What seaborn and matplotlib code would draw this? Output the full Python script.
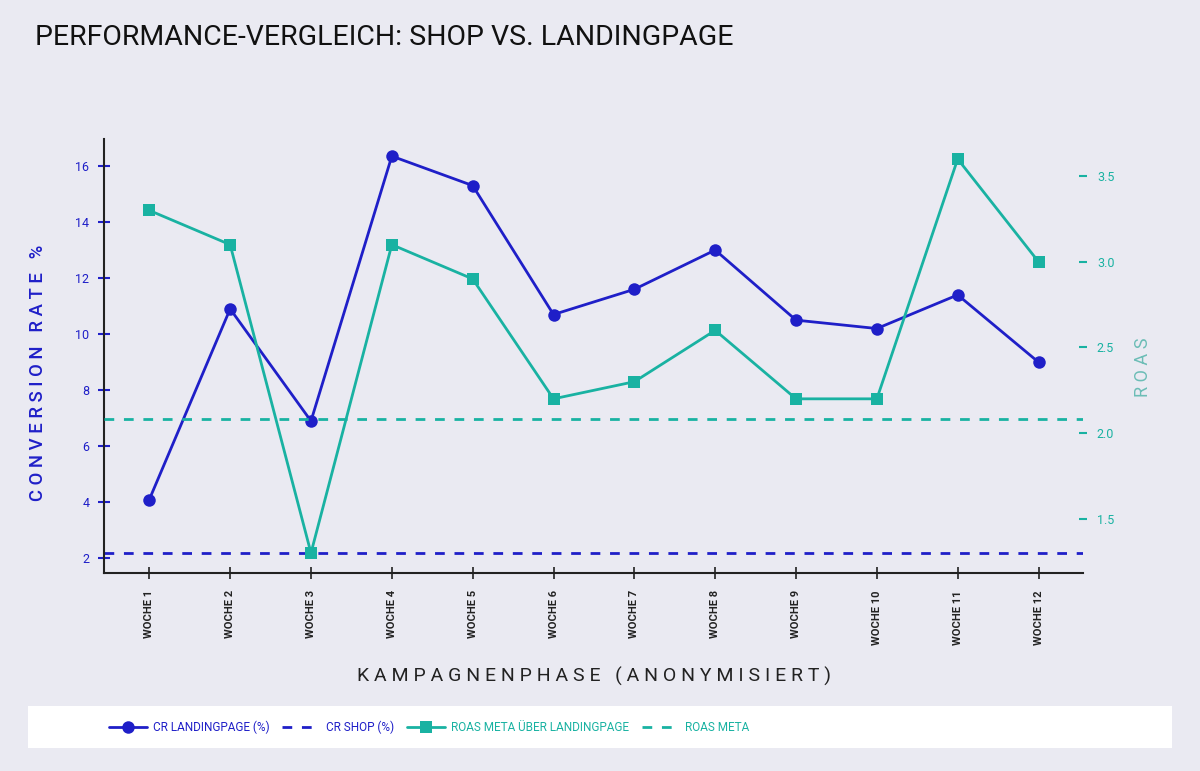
import matplotlib
matplotlib.use("Agg")
import matplotlib.pyplot as plt
import seaborn as sns
import pandas as pd
from matplotlib.patches import Rectangle

# Daten
wochen = ["WOCHE 1", "WOCHE 2", "WOCHE 3", "WOCHE 4", "WOCHE 5", "WOCHE 6",
          "WOCHE 7", "WOCHE 8", "WOCHE 9", "WOCHE 10", "WOCHE 11", "WOCHE 12"]
cr_landingpage = [4.1, 10.9, 6.9, 16.35, 15.3, 10.7, 11.6, 13.0, 10.5, 10.2, 11.4, 9.0]
roas_landingpage = [3.3, 3.1, 1.3, 3.1, 2.9, 2.2, 2.3, 2.6, 2.2, 2.2, 3.6, 3.0]
cr_shop = 2.2
roas_meta = 2.08

BG = "#EAEAF2"
BLUE = "#1F1FC8"
TEAL = "#19B2A2"
TEAL_LABEL = "#6CBDB6"
DARK = "#222222"

sns.set_style("dark", {"axes.facecolor": BG, "figure.facecolor": BG})
plt.rcParams['font.family'] = ['Roboto', 'DejaVu Sans']

df = pd.DataFrame({"pos": range(len(wochen)), "woche": wochen,
                   "cr": cr_landingpage, "roas": roas_landingpage})

fig = plt.figure(figsize=(12, 7.71), dpi=100)
ax1 = fig.add_axes([0.0867, 0.2572, 0.8158, 0.5621])

sns.lineplot(data=df, x="pos", y="cr", ax=ax1, color=BLUE, lw=2, marker="o",
             markersize=9, markeredgewidth=0, label="CR LANDINGPAGE (%)", legend=False)
ax1.axhline(cr_shop, color=BLUE, lw=2, ls=(0, (3.5, 3.5)), label="CR SHOP (%)")

ax2 = ax1.twinx()
sns.lineplot(data=df, x="pos", y="roas", ax=ax2, color=TEAL, lw=2, marker="s",
             markersize=8, markeredgewidth=0, label="ROAS META ÜBER LANDINGPAGE", legend=False)
ax2.axhline(roas_meta, color=TEAL, lw=2, ls=(0, (3.5, 3.5)), label="ROAS META")

ax1.set_xlim(-0.56, 11.55)
ax1.set_ylim(1.49, 16.95)
ax2.set_ylim(1.185, 3.715)

# Achsen gestalten
for s in ["top", "right"]:
    ax1.spines[s].set_visible(False)
for s in ax2.spines.values():
    s.set_visible(False)
for s in ["left", "bottom"]:
    ax1.spines[s].set_color(DARK)
    ax1.spines[s].set_linewidth(1.5)

ax1.set_xticks(df["pos"])
ax1.set_xticklabels(wochen, rotation=90, fontsize=8, fontweight="bold", color=DARK)
ax1.tick_params(axis="x", direction="inout", length=9, width=1.2, color=DARK, pad=8, bottom=True)
ax1.set_yticks([2, 4, 6, 8, 10, 12, 14, 16])
ax1.tick_params(axis="y", direction="inout", length=9, width=1.5, color=BLUE,
                labelcolor=BLUE, labelsize=9, left=True, pad=6)
ax2.set_yticks([1.5, 2.0, 2.5, 3.0, 3.5])
ax2.tick_params(axis="y", direction="inout", length=6, width=1.5, color=TEAL,
                labelcolor=TEAL, labelsize=9, right=True, pad=7)

ax1.set_xlabel("K A M P A G N E N P H A S E   ( A N O N Y M I S I E R T )",
               fontsize=14, color=DARK)
ax1.xaxis.set_label_coords(0.5, -0.218)
ax1.set_ylabel("C O N V E R S I O N   R A T E   %", fontsize=13.3, color=BLUE, fontweight="medium")
ax1.yaxis.set_label_coords(-0.058, 0.46)
ax2.set_ylabel("R O A S", fontsize=13, color=TEAL_LABEL, rotation=90)
ax2.yaxis.set_label_coords(1.052, 0.475)

fig.text(0.029, 0.951, "PERFORMANCE-VERGLEICH: SHOP VS. LANDINGPAGE",
         fontsize=20.5, color="#111111", va="center", ha="left")

# Legende in weißem Band
fig.patches.append(Rectangle((0.0233, 0.0298), 0.953, 0.0545, transform=fig.transFigure,
                             facecolor="white", edgecolor="none", zorder=0))
h1, l1 = ax1.get_legend_handles_labels()
h2, l2 = ax2.get_legend_handles_labels()
leg = fig.legend(h1 + h2, l1 + l2, loc="center left", bbox_to_anchor=(0.082, 0.057),
                 ncol=4, frameon=False, fontsize=8.5, handlelength=3.2, columnspacing=1.1,
                 handletextpad=0.5, labelcolor=[BLUE, BLUE, TEAL, TEAL])

plt.savefig("out.png", dpi=100, facecolor=BG)
